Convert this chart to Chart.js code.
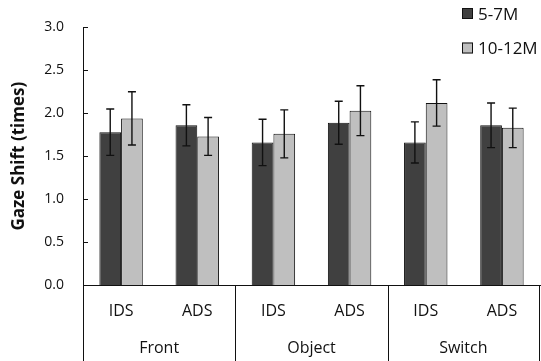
<!DOCTYPE html>
<html>
<head>
<meta charset="utf-8">
<script src="https://cdn.jsdelivr.net/npm/chart.js@4"></script>
<style>
  html, body { margin: 0; padding: 0; background: #fff; }
  canvas { display: block; }
</style>
</head>
<body>
<canvas id="gazeChart" width="541" height="361"></canvas>
<script>
// data
const labels = ["IDS", "ADS", "IDS", "ADS", "IDS", "ADS"];
const groups = ["Front", "Object", "Switch"];
const seriesNames = ["5-7M", "10-12M"];
const young = [1.78, 1.86, 1.66, 1.89, 1.66, 1.86];
const youngErr = [0.27, 0.24, 0.27, 0.25, 0.24, 0.26];
const older = [1.94, 1.73, 1.76, 2.03, 2.12, 1.83];
const olderErr = [0.31, 0.22, 0.28, 0.29, 0.27, 0.23];
const yMin = 0;
const yMax = 3;
const yStep = 0.5;

const FONT = "'Open Sans', 'DejaVu Sans', sans-serif";
const INK = "#111";

// error bars on top of each bar
const errorBars = {
  id: "errorBars",
  afterDatasetsDraw: (chart) => {
    const ctx = chart.ctx;
    const y = chart.scales.y;
    ctx.save();
    ctx.strokeStyle = INK;
    ctx.lineWidth = 1.4;
    chart.data.datasets.forEach((ds, i) => {
      const meta = chart.getDatasetMeta(i);
      meta.data.forEach((bar, j) => {
        const top = y.getPixelForValue(ds.data[j] + ds.errors[j]);
        const bot = y.getPixelForValue(ds.data[j] - ds.errors[j]);
        ctx.beginPath();
        ctx.moveTo(bar.x, top);
        ctx.lineTo(bar.x, bot);
        ctx.moveTo(bar.x - 4, top);
        ctx.lineTo(bar.x + 4, top);
        ctx.moveTo(bar.x - 4, bot);
        ctx.lineTo(bar.x + 4, bot);
        ctx.stroke();
      });
    });
    ctx.restore();
  },
};

// inward y ticks, group dividers and group names
const axisDecor = {
  id: "axisDecor",
  afterDraw: (chart) => {
    const { ctx, chartArea } = chart;
    const x = chart.scales.x;
    const y = chart.scales.y;
    ctx.save();
    ctx.strokeStyle = INK;
    ctx.lineWidth = 1;

    y.ticks.forEach((t) => {
      const py = Math.round(y.getPixelForValue(t.value)) + 0.5;
      ctx.beginPath();
      ctx.moveTo(chartArea.left, py);
      ctx.lineTo(chartArea.left + 5, py);
      ctx.stroke();
    });

    const per = labels.length / groups.length;
    const edges = [chartArea.left];
    for (let g = 1; g < groups.length; g++) {
      edges.push((x.getPixelForValue(g * per - 1) + x.getPixelForValue(g * per)) / 2);
    }
    edges.push(chartArea.right - 1);

    edges.forEach((ex) => {
      const px = Math.round(ex) + 0.5;
      ctx.beginPath();
      ctx.moveTo(px, chartArea.bottom);
      ctx.lineTo(px, chart.height);
      ctx.stroke();
    });

    ctx.fillStyle = INK;
    ctx.font = "16px " + FONT;
    ctx.textAlign = "center";
    ctx.textBaseline = "middle";
    groups.forEach((name, g) => {
      ctx.fillText(name, (edges[g] + edges[g + 1]) / 2, 348);
    });
    ctx.restore();
  },
};

// legend stacked in the top right corner
const cornerLegend = {
  id: "cornerLegend",
  afterDraw: (chart) => {
    const ctx = chart.ctx;
    ctx.save();
    ctx.font = "17px " + FONT;
    ctx.textBaseline = "middle";
    ctx.textAlign = "left";
    chart.data.datasets.forEach((ds, i) => {
      const bx = 462;
      const by = 8 + i * 34.5;
      ctx.fillStyle = ds.backgroundColor;
      ctx.fillRect(bx, by, 11, 11);
      ctx.strokeStyle = INK;
      ctx.lineWidth = 1;
      ctx.strokeRect(bx + 0.5, by + 0.5, 10, 10);
      ctx.fillStyle = INK;
      ctx.fillText(ds.label, 478, by + 7);
    });
    ctx.restore();
  },
};

new Chart(document.getElementById("gazeChart"), {
  type: "bar",
  data: {
    labels: labels,
    datasets: [
      {
        label: seriesNames[0],
        data: young,
        errors: youngErr,
        backgroundColor: "#404040",
        borderColor: INK,
        borderWidth: 1,
      },
      {
        label: seriesNames[1],
        data: older,
        errors: olderErr,
        backgroundColor: "#bfbfbf",
        borderColor: INK,
        borderWidth: 1,
      },
    ],
  },
  options: {
    responsive: false,
    animation: false,
    devicePixelRatio: 1,
    layout: { padding: { top: 13, right: 1, left: 0, bottom: 0 } },
    datasets: { bar: { categoryPercentage: 0.57, barPercentage: 1 } },
    plugins: { legend: { display: false }, tooltip: { enabled: false } },
    scales: {
      x: {
        grid: { display: false, drawTicks: false },
        border: { display: true, color: INK, width: 1 },
        ticks: { color: INK, font: { family: FONT, size: 16 }, padding: 17, maxRotation: 0 },
        afterFit: (scale) => { scale.height = 76; },
      },
      y: {
        min: yMin,
        max: yMax,
        grid: { display: false, drawTicks: false },
        border: { display: true, color: INK, width: 1 },
        ticks: {
          stepSize: yStep,
          color: INK,
          padding: 19,
          font: { family: FONT, size: 14 },
          callback: (v) => v.toFixed(1),
        },
        title: {
          display: true,
          text: "Gaze Shift (times)",
          color: INK,
          font: { family: FONT, size: 17, weight: "bold" },
          padding: { top: 9, bottom: 0 },
        },
        afterFit: (scale) => { scale.width = 83; },
      },
    },
  },
  plugins: [errorBars, axisDecor, cornerLegend],
});
</script>
</body>
</html>
